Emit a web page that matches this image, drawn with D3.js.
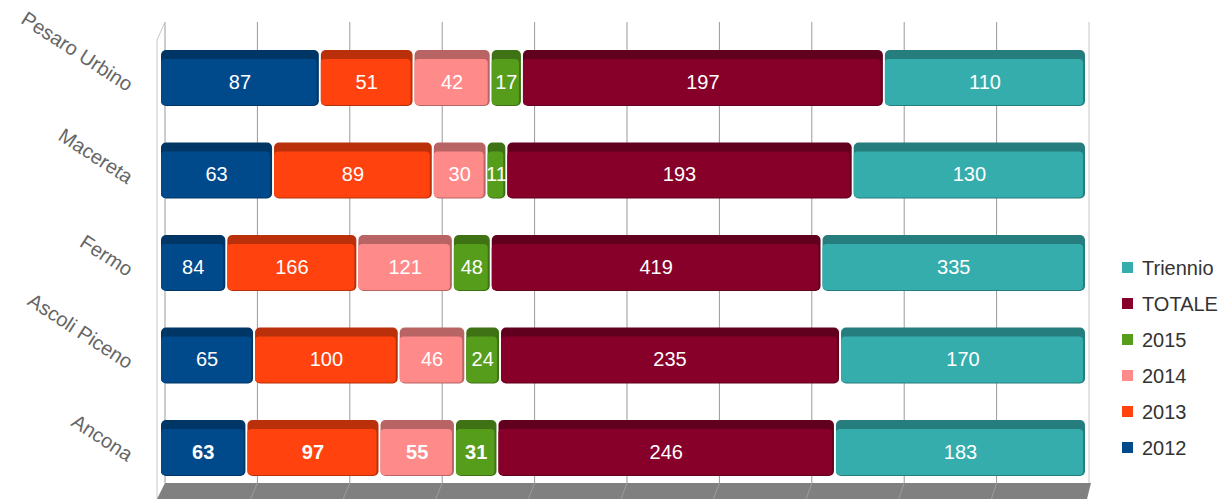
<!doctype html>
<html>
<head>
  <meta charset="utf8"/>
  <style>
    body { margin: 0; background: #fff; }
    svg { font-family: "Liberation Sans", Arial, sans-serif; }
  </style>
</head>
<body>
  <svg width="1225" height="499"></svg>
  <script src="https://d3js.org/d3.v7.min.js"></script>
  <script>
    // data
    var categories = ['Pesaro Urbino', 'Macereta', 'Fermo', 'Ascoli Piceno', 'Ancona'];
    var seriesNames = ['2012', '2013', '2014', '2015', 'TOTALE', 'Triennio'];
    var v2012     = [87, 63, 84, 65, 63];
    var v2013     = [51, 89, 166, 100, 97];
    var v2014     = [42, 30, 121, 46, 55];
    var v2015     = [17, 11, 48, 24, 31];
    var vTotale   = [197, 193, 419, 235, 246];
    var vTriennio = [110, 130, 335, 170, 183];
    var colors = ['#004a8c', '#ff420e', '#ff8a8a', '#579d1c', '#86002a', '#35adad'];
    var gridTicks = [0, 0.1, 0.2, 0.3, 0.4, 0.5, 0.6, 0.7, 0.8, 0.9, 1];

    var allValues = [v2012, v2013, v2014, v2015, vTotale, vTriennio];
    var rows = categories.map(function(c, i) {
      var r = {cat: c};
      seriesNames.forEach(function(s, j) { r[s] = allValues[j][i]; });
      return r;
    });

    var svg = d3.select('svg');

    var x = d3.scaleLinear().domain([0, 1]).range([160, 1086]);      // bar fronts
    var xBack = d3.scaleLinear().domain([0, 1]).range([165, 1089]);  // back wall
    var y = d3.scaleBand()
              .domain(categories)
              .range([31.75, 494.25])
              .paddingInner(0.3946)
              .paddingOuter(0.1973);
    var z = d3.scaleOrdinal().domain(seriesNames).range(colors);

    var stack = d3.stack().keys(seriesNames).offset(d3.stackOffsetExpand);
    var layers = stack(rows);

    // walls / grid
    var wallTop = 22, floorTop = 483;
    svg.append('g')
      .selectAll('line')
      .data(gridTicks)
      .enter().append('line')
        .attr('x1', function(d) { return xBack(d); })
        .attr('x2', function(d) { return xBack(d); })
        .attr('y1', wallTop)
        .attr('y2', floorTop)
        .attr('stroke', function(d, i) { return i === gridTicks.length - 1 ? '#c8c8c8' : '#9a9a9a'; })
        .attr('stroke-width', 1);

    svg.append('path')
      .attr('d', 'M157,499 L157,40 L165,' + wallTop)
      .attr('fill', 'none')
      .attr('stroke', '#c8c8c8');

    // floor
    svg.append('path')
      .attr('d', 'M' + xBack(0) + ',' + floorTop + ' L' + (xBack(1) + 2) + ',' + floorTop +
                 ' L' + (x(1) + 1) + ',499 L157,499 Z')
      .attr('fill', '#808080');
    svg.append('g')
      .selectAll('line')
      .data(gridTicks.slice(1, -1))
      .enter().append('line')
        .attr('x1', function(d) { return xBack(d); })
        .attr('x2', function(d) { return x(d) - 2; })
        .attr('y1', floorTop)
        .attr('y2', 499)
        .attr('stroke', '#9c9c9c');

    // bars
    var bw = y.bandwidth(), topDepth = 9;
    var seg = svg.append('g')
      .selectAll('g')
      .data(layers)
      .enter().append('g')
      .selectAll('g')
      .data(function(L) {
        return L.map(function(d, i) {
          return {key: L.key, idx: L.index, x0: d[0], x1: d[1], cat: categories[i], value: d.data[L.key]};
        });
      })
      .enter().append('g');

    seg.append('rect')
      .attr('x', function(d) { return x(d.x0) + 1; })
      .attr('y', function(d) { return y(d.cat); })
      .attr('width', function(d) { return x(d.x1) - x(d.x0) - 2; })
      .attr('height', bw)
      .attr('rx', 5)
      .attr('fill', function(d) { return d3.color(z(d.key)).darker(0.9); });

    seg.append('rect')
      .attr('x', function(d) { return x(d.x0) + 1; })
      .attr('y', function(d) { return y(d.cat) + topDepth; })
      .attr('width', function(d) { return x(d.x1) - x(d.x0) - 4; })
      .attr('height', bw - topDepth - 1)
      .attr('rx', 4)
      .attr('fill', function(d) { return z(d.key); });

    seg.append('text')
      .attr('x', function(d) { return (x(d.x0) + x(d.x1)) / 2; })
      .attr('y', function(d) { return y(d.cat) + topDepth + (bw - topDepth) / 2 - 1; })
      .attr('dy', '0.35em')
      .attr('text-anchor', 'middle')
      .attr('fill', '#fff')
      .style('font-size', '20px')
      .style('font-weight', function(d) { return d.cat === 'Ancona' && d.idx < 4 ? 'bold' : 'normal'; })
      .text(function(d) { return d.value; });

    // category labels
    svg.append('g')
      .selectAll('text')
      .data(categories)
      .enter().append('text')
        .attr('transform', function(d) {
          return 'translate(127,' + (y(d) + bw / 2 + 14) + ') rotate(33)';
        })
        .attr('text-anchor', 'end')
        .attr('fill', '#666')
        .style('font-size', '20px')
        .text(function(d) { return d; });

    // legend
    var legend = svg.append('g')
      .selectAll('g')
      .data(seriesNames.slice().reverse())
      .enter().append('g')
        .attr('transform', function(d, i) { return 'translate(1122,' + (268 + i * 36) + ')'; });
    legend.append('rect')
      .attr('x', 0).attr('y', -6)
      .attr('width', 11).attr('height', 11)
      .attr('fill', function(d) { return z(d); });
    legend.append('text')
      .attr('x', 20)
      .attr('dy', '0.35em')
      .attr('fill', '#333')
      .style('font-size', '20px')
      .text(function(d) { return d; });
  </script>
</body>
</html>
